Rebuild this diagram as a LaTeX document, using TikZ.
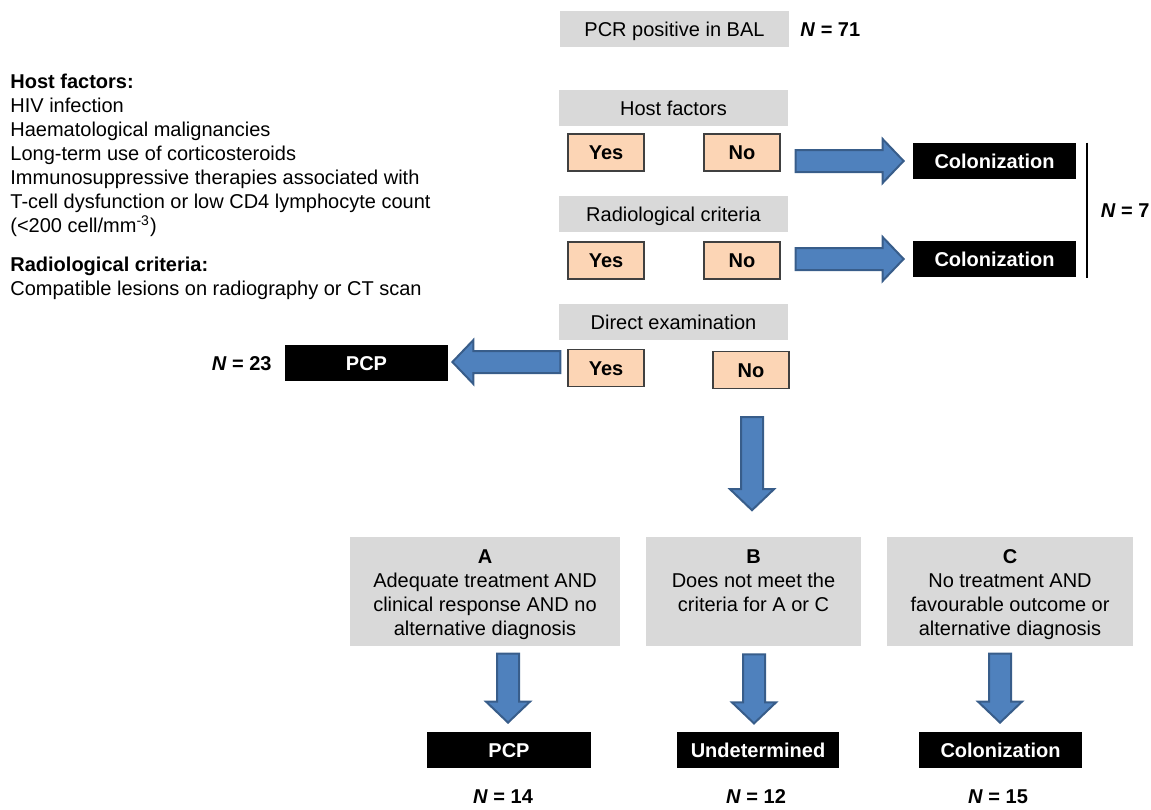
\documentclass[tikz,border=0pt]{standalone}
\usepackage{fontspec}
\setmainfont{Liberation Sans}
\usetikzlibrary{calc}

\definecolor{greybox}{HTML}{D9D9D9}
\definecolor{answerfill}{HTML}{FCD5B5}
\definecolor{answerline}{HTML}{404040}
\definecolor{arrowfill}{HTML}{4F81BD}
\definecolor{arrowline}{HTML}{385D8A}

\tikzset{
  question/.style={fill=greybox, minimum width=114.5pt, minimum height=18pt, inner sep=0pt, text height=7pt, text depth=0pt},
  answer/.style={fill=answerfill, draw=answerline, line width=0.7pt, minimum width=38pt, minimum height=18.5pt, inner sep=0pt, text height=7pt, text depth=0pt, font=\bfseries},
  outcome/.style={fill=black, text=white, minimum width=81.5pt, minimum height=18pt, inner sep=0pt, text height=7pt, text depth=0pt, font=\bfseries},
  category/.style={fill=greybox, minimum height=54.5pt, inner sep=0pt},
  catlabel/.style={align=center, inner sep=0pt},
  count/.style={font=\bfseries, inner sep=0pt},
  arrowbody/.style={fill=arrowfill, draw=arrowline, line width=1pt, line join=miter},
}

% block arrow from tail #1 to tip #2
\newcommand{\bigarrow}[2]{%
  \coordinate (headbase) at ($(#2)!10.5pt!(#1)$);
  \draw[arrowbody] ($(#1)!5.5pt!90:(#2)$) -- ($(headbase)!5.5pt!90:(#2)$)
    -- ($(headbase)!11pt!90:(#2)$) -- (#2) -- ($(headbase)!11pt!-90:(#2)$)
    -- ($(headbase)!5.5pt!-90:(#2)$) -- ($(#1)!5.5pt!-90:(#2)$) -- cycle;
}

\begin{document}
\begin{tikzpicture}[x=0.5pt,y=-0.5pt]
  \useasboundingbox (0,0) rectangle (1151,809);

  % left legend
  \node[anchor=north west, align=left, inner sep=0pt] (hostlist) at (10,74)
    {\textbf{Host factors:}\\HIV infection\\Haematological malignancies\\Long-term use of corticosteroids\\Immunosuppressive therapies associated with\\T-cell dysfunction or low CD4 lymphocyte count\\(<200 cell/mm\textsuperscript{-3})};
  \node[anchor=north west, align=left, inner sep=0pt] (radlist) at (10,257)
    {\textbf{Radiological criteria:}\\Compatible lesions on radiography or CT scan};

  % top
  \node[question] (pcr) at (674.5,29) {PCR positive in BAL};
  \node[count, anchor=west] (n71) at (800,30) {\textit{N} = 71};

  % host factors
  \node[question] (host) at (673.5,108) {Host factors};
  \node[answer] (yes1) at (606,152.5) {Yes};
  \node[answer] (no1) at (742,152.5) {No};
  \node[outcome] (col1) at (994.5,161) {Colonization};

  % radiological criteria
  \node[question] (radio) at (673.5,214) {Radiological criteria};
  \node[answer] (yes2) at (606,260.5) {Yes};
  \node[answer] (no2) at (742,260.5) {No};
  \node[outcome] (col2) at (994.5,259) {Colonization};

  \coordinate (br1) at ($(col1.north east)+(11,0)$);
  \coordinate (br2) at ($(col2.south east)+(11,1)$);
  \draw[line width=1pt] (br1) -- (br2);
  \node[count, anchor=west] (n7) at ($(br1)!0.5!(br2)+(13,0)$) {\textit{N} = 7};

  % direct examination
  \node[question] (direct) at (673.5,322) {Direct examination};
  \node[answer] (yes3) at (606,368) {Yes};
  \node[answer] (no3) at (751,370) {No};
  \node[outcome] (pcp1) at (366.5,363) {PCP};
  \node[count, anchor=east] (n23) at (272,364) {\textit{N} = 23};

  \coordinate (a1s) at ($(col1.west)+(-117,0)$);
  \coordinate (a1e) at ($(col1.west)+(-9,0)$);
  \bigarrow{a1s}{a1e}
  \coordinate (a2s) at ($(col2.west)+(-117,0)$);
  \coordinate (a2e) at ($(col2.west)+(-9,0)$);
  \bigarrow{a2s}{a2e}
  \coordinate (a3s) at ($(pcp1.east)+(112,-1)$);
  \coordinate (a3e) at ($(pcp1.east)+(4,-1)$);
  \bigarrow{a3s}{a3e}
  \coordinate (a4s) at ($(no3.south)+(1,28)$);
  \coordinate (a4e) at ($(no3.south)+(1,121)$);
  \bigarrow{a4s}{a4e}

  % categories
  \node[category, minimum width=135pt] (catA) at (485,591.5) {};
  \node[category, minimum width=107.5pt] (catB) at (753.5,591.5) {};
  \node[category, minimum width=123pt] (catC) at (1010,591.5) {};
  \node[catlabel, anchor=north] (labA) at ($(catA.north)+(0,13)$)
    {\textbf{A}\\Adequate treatment AND\\clinical response AND no\\alternative diagnosis};
  \node[catlabel, anchor=north] (labB) at ($(catB.north)+(0,13)$)
    {\textbf{B}\\Does not meet the\\criteria for A or C};
  \node[catlabel, anchor=north] (labC) at ($(catC.north)+(0,13)$)
    {\textbf{C}\\No treatment AND\\favourable outcome or\\alternative diagnosis};

  % outcomes
  \node[outcome, minimum width=82pt] (pcp2) at (509,750) {PCP};
  \node[outcome, minimum width=81pt] (undet) at (758,750) {Undetermined};
  \node[outcome] (col3) at (1000.5,750) {Colonization};

  \coordinate (b1s) at ($(pcp2.north)+(-1,-78)$);
  \coordinate (b1e) at ($(pcp2.north)+(-1,-9)$);
  \bigarrow{b1s}{b1e}
  \coordinate (b2s) at ($(catB.south)+(0.5,8)$);
  \coordinate (b2e) at ($(catB.south)+(0.5,77)$);
  \bigarrow{b2s}{b2e}
  \coordinate (b3s) at ($(col3.north)+(-0.5,-78)$);
  \coordinate (b3e) at ($(col3.north)+(-0.5,-9)$);
  \bigarrow{b3s}{b3e}

  \node[count] (n14) at (503,797) {\textit{N} = 14};
  \node[count] (n12) at (756,797) {\textit{N} = 12};
  \node[count] (n15) at (998,797) {\textit{N} = 15};
\end{tikzpicture}
\end{document}
